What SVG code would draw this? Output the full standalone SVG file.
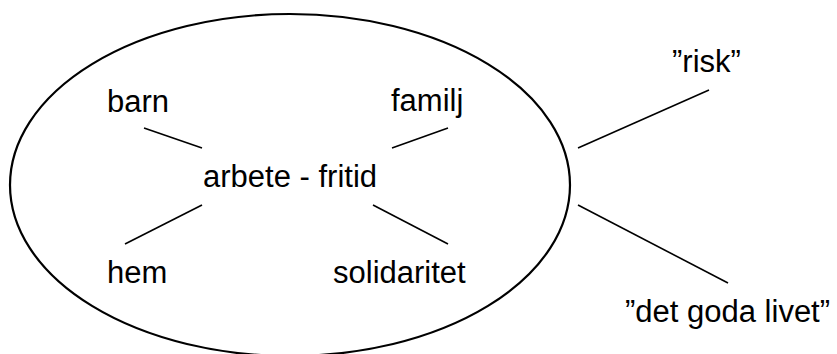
<svg xmlns="http://www.w3.org/2000/svg" width="837" height="354" viewBox="0 0 837 354">
<style>
text{font-family:"Liberation Sans",Arial,sans-serif;font-size:31px;fill:#000}
.c line{stroke:#000;stroke-width:1.6}
</style>
<rect width="837" height="354" fill="#fff"/>
<g id="frame">
<ellipse cx="290" cy="185" rx="280" ry="171" fill="none" stroke="#000" stroke-width="2.2"/>
<line x1="504" y1="303" x2="508" y2="299" stroke="#fff" stroke-width="2"/>
</g>
<g id="center"><text x="203" y="187">arbete - fritid</text></g>
<g id="barn"><text x="107" y="112">barn</text></g>
<g id="familj"><text x="391" y="111">familj</text></g>
<g id="hem"><text x="107" y="283">hem</text></g>
<g id="solidaritet"><text x="333" y="283">solidaritet</text></g>
<g id="risk"><text x="672" y="72">”risk”</text></g>
<g id="goda"><text x="625" y="322">”det goda livet”</text></g>
<g class="c" id="connectors">
<line x1="144" y1="128" x2="202" y2="148"/>
<line x1="392" y1="148" x2="448" y2="128"/>
<line x1="125" y1="244" x2="202" y2="205"/>
<line x1="373" y1="205" x2="448" y2="244"/>
<line x1="578" y1="148" x2="709" y2="90"/>
<line x1="578" y1="205" x2="728" y2="283"/>
</g>
</svg>
